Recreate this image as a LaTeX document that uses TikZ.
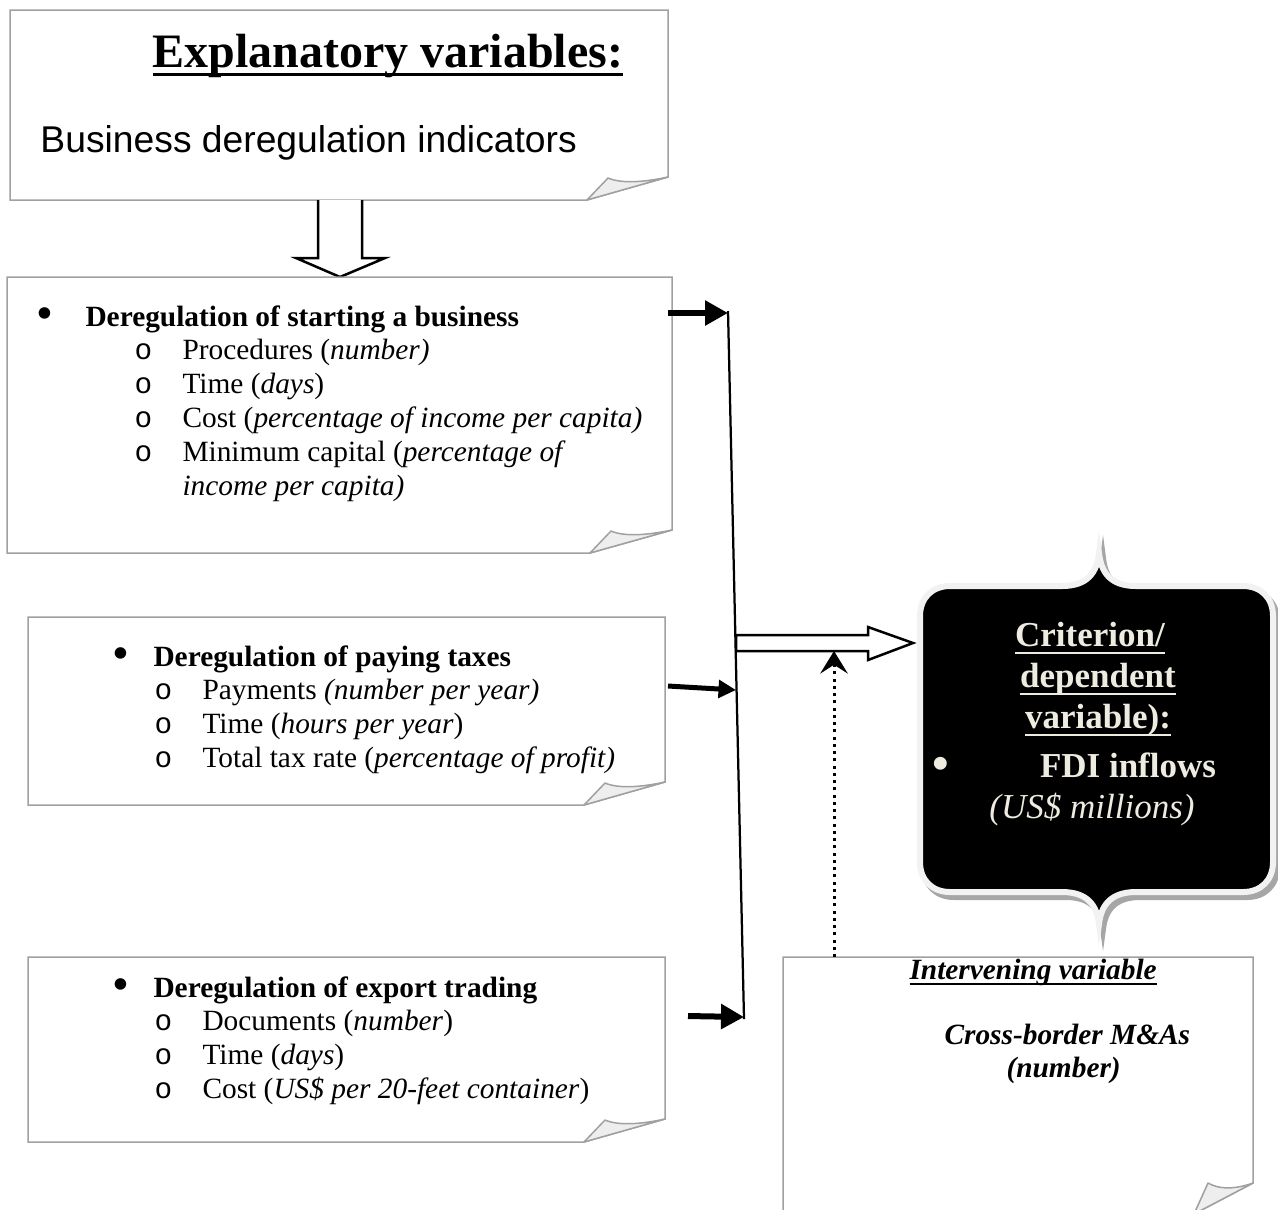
\documentclass[tikz,border=0pt]{standalone}
\usepackage{fontspec}
\setmainfont{Liberation Serif}
\newfontfamily\arialf{Liberation Sans}
\newfontfamily\courf{Liberation Mono}
\usetikzlibrary{arrows.meta}
\definecolor{paperline}{HTML}{A0A0A0}
\definecolor{curlfill}{HTML}{EEEEEE}
\definecolor{beige}{HTML}{EEECE1}
\definecolor{rim}{HTML}{F2F2F2}
\definecolor{shade}{HTML}{A6A6A6}
\newcommand\ulbox[3]{\setbox0=\hbox{#3}\rlap{\rule[-#1]{\wd0}{#2}}\box0}
\tikzset{
  paper/.style={draw=paperline, line width=0.6pt, fill=white},
  curl/.style={draw=paperline, line width=0.6pt, fill=curlfill, line join=round},
  txt/.style={anchor=base west, inner sep=0pt, font=\fontsize{11.75}{14}\selectfont},
  subo/.style={anchor=base west, inner sep=0pt, font=\courf\fontsize{11.75}{14}\selectfont},
  bul/.style={anchor=base west, inner sep=0pt, font=\bfseries\fontsize{17}{14}\selectfont},
  crit/.style={anchor=base, inner sep=0pt, text=beige, font=\bfseries\fontsize{14}{16}\selectfont},
  feedA/.style={line width=2.4pt, -{Triangle[length=9.2pt,width=9.6pt]}},
  feedB/.style={line width=2pt, -{Triangle[length=7pt,width=7pt]}},
  blockarrow/.style={draw=black, line width=1pt, fill=white, line join=miter},
  joinline/.style={line width=0.9pt},
  medline/.style={line width=1.2pt, dash pattern=on 1.2pt off 1.7pt, -{Stealth[length=9pt,width=11pt,inset=3.5pt]}},
}
\begin{document}
\begin{tikzpicture}[x=0.4pt,y=-0.4pt]
\useasboundingbox (0,0) rectangle (1278,1209);

% ---------- Box 1 ----------
\draw[paper] (587,200) -- (10,200) -- (10,10) -- (668,10) -- (668,177) -- cycle;
\draw[curl] (587,200) -- (608,178) .. controls (622,184) and (645,182) .. (668,177) -- cycle;
\node[anchor=base west, inner sep=0pt, font=\bfseries\fontsize{19.2}{24}\selectfont] (title) at (152,67)
  {\ulbox{3.6pt}{1.4pt}{Explanatory variables:}};
\node[anchor=base west, inner sep=0pt, font=\arialf\fontsize{14.9}{18}\selectfont] (bdi) at (40,152)
  {Business deregulation indicators};

% down block arrow
\coordinate (dtop) at (340,200);
\draw[blockarrow] (318,200) -- (318,258) -- (296,258) -- (340,277) -- (385,258) -- (362,258) -- (362,200);

% ---------- Box 2 ----------
\draw[paper] (590,553) -- (7,553) -- (7,277) -- (672,277) -- (672,530) -- cycle;
\draw[curl] (590,553) -- (611,531) .. controls (625,537) and (648,535) .. (672,530) -- cycle;
\node[bul] (b2b) at (37,327) {•};
\node[txt] (b2h) at (85,326) {\textbf{Deregulation of starting a business}};
\node[subo] (b2o1) at (134,359) {o};
\node[txt] (b2l1) at (182,359) {Procedures (\textit{number)}};
\node[subo] (b2o2) at (134,393) {o};
\node[txt] (b2l2) at (182,393) {Time (\textit{days})};
\node[subo] (b2o3) at (134,427) {o};
\node[txt] (b2l3) at (182,427) {Cost (\textit{percentage of income per capita)}};
\node[subo] (b2o4) at (134,461) {o};
\node[txt] (b2l4) at (182,461) {Minimum capital (\textit{percentage of}};
\node[txt] (b2l5) at (182,495) {\textit{income per capita)}};

% ---------- Box 3 ----------
\draw[paper] (584,805) -- (28,805) -- (28,617) -- (665,617) -- (665,782) -- cycle;
\draw[curl] (584,805) -- (605,783) .. controls (619,789) and (642,787) .. (665,782) -- cycle;
\node[bul] (b3b) at (113,667) {•};
\node[txt] (b3h) at (153,666) {\textbf{Deregulation of paying taxes}};
\node[subo] (b3o1) at (154,699) {o};
\node[txt] (b3l1) at (202,699) {Payments \textit{(number per year)}};
\node[subo] (b3o2) at (154,733) {o};
\node[txt] (b3l2) at (202,733) {Time (\textit{hours per year})};
\node[subo] (b3o3) at (154,767) {o};
\node[txt] (b3l3) at (202,767) {Total tax rate (\textit{percentage of profit)}};

% ---------- Box 4 ----------
\draw[paper] (584,1142) -- (28,1142) -- (28,957) -- (665,957) -- (665,1119) -- cycle;
\draw[curl] (584,1142) -- (605,1120) .. controls (619,1126) and (642,1124) .. (665,1119) -- cycle;
\node[bul] (b4b) at (113,998) {•};
\node[txt] (b4h) at (153,997) {\textbf{Deregulation of export trading}};
\node[subo] (b4o1) at (154,1030) {o};
\node[txt] (b4l1) at (202,1030) {Documents (\textit{number})};
\node[subo] (b4o2) at (154,1064) {o};
\node[txt] (b4l2) at (202,1064) {Time (\textit{days})};
\node[subo] (b4o3) at (154,1098) {o};
\node[txt] (b4l3) at (202,1098) {Cost (\textit{US\$ per 20-feet container})};

% ---------- Box 5 (intervening) ----------
\draw[paper] (1194,1214) -- (783,1214) -- (783,957) -- (1253,957) -- (1253,1183) -- cycle;
\draw[curl] (1194,1214) -- (1208,1183) .. controls (1220,1190) and (1236,1189) .. (1253,1183) -- cycle;
\node[anchor=base west, inner sep=0pt, font=\bfseries\itshape\fontsize{11.75}{14}\selectfont] (iv) at (909,979)
  {\ulbox{2.4pt}{0.8pt}{Intervening variable}};
\node[anchor=base west, inner sep=0pt, font=\bfseries\itshape\fontsize{11.75}{14}\selectfont] (cb) at (944,1044)
  {Cross-border M\&As};
\node[anchor=base west, inner sep=0pt, font=\bfseries\itshape\fontsize{11.75}{14}\selectfont] (cbn) at (1006,1077)
  {(number)};

% ---------- Criterion plaque ----------
\def\plaque{(920,616) .. controls (920,598) and (932,586) .. (950,586) -- (1062,586)
  .. controls (1088,586) and (1097,572) .. (1099,553) .. controls (1101,572) and (1110,586) .. (1136,586)
  -- (1243,586) .. controls (1261,586) and (1273,598) .. (1273,616) -- (1273,862)
  .. controls (1273,880) and (1261,892) .. (1243,892) -- (1136,892)
  .. controls (1110,892) and (1101,906) .. (1099,924) .. controls (1097,906) and (1088,892) .. (1062,892)
  -- (950,892) .. controls (932,892) and (920,880) .. (920,862) -- cycle}
\begin{scope}[shift={(4,5)}]
\draw[draw=shade, fill=shade, line width=2.4pt] \plaque;
\end{scope}
\draw[draw=rim, fill=black, line width=2.4pt] \plaque;
\node[crit] (c1) at (1090,646) {\ulbox{3.2pt}{1pt}{Criterion/}};
\node[crit] (c2) at (1098,687) {\ulbox{3.2pt}{1pt}{dependent}};
\node[crit] (c3) at (1098,728) {\ulbox{3.2pt}{1pt}{variable):}};
\node[crit, font=\bfseries\fontsize{19}{16}\selectfont] (c4) at (941,779) {•};
\node[crit] (c5) at (1128,777) {FDI inflows};
\node[crit, font=\itshape\fontsize{14}{16}\selectfont] (c6) at (1092,818) {(US\$ millions)};

% ---------- connectors ----------
\coordinate (jtop) at (728,311);
\coordinate (jbot) at (744,1019);
\draw[joinline] (jtop) -- (jbot);
\coordinate (a1s) at (668,313); \coordinate (a1e) at (728,313);
\coordinate (a2s) at (668,686); \coordinate (a2e) at (736,690);
\coordinate (a3s) at (688,1016); \coordinate (a3e) at (744,1017);
\draw[feedA] (a1s) -- (a1e);
\draw[feedB] (a2s) -- (a2e);
\draw[feedA] (a3s) -- (a3e);

% block arrow to criterion
\coordinate (bas) at (736,643);
\coordinate (bae) at (913,643);
\draw[blockarrow] (736,635) -- (868,635) -- (868,627) -- (bae) -- (868,660) -- (868,651) -- (736,651) -- cycle;

% dotted intervening arrow
\coordinate (ivs) at (834,957);
\coordinate (ive) at (834,651);
\draw[medline] (ivs) -- (ive);
\end{tikzpicture}
\end{document}
